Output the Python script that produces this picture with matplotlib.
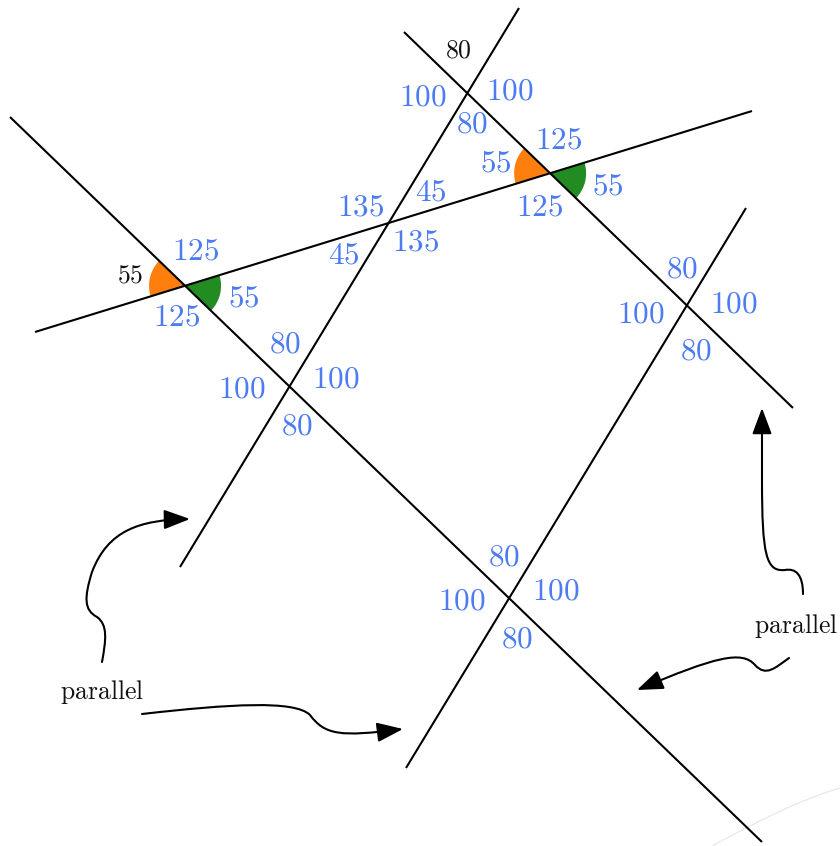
import numpy as np
import matplotlib
matplotlib.use("Agg")
import matplotlib.pyplot as plt
from matplotlib.patches import Wedge, FancyArrowPatch, PathPatch
from matplotlib.path import Path

plt.rcParams['mathtext.fontset'] = 'cm'

# ---- data ----
# line segments (pixel coords of picture)
seg_A = [(10, 117), (762, 842)]      # long transversal
seg_B = [(404, 32), (793, 408)]      # parallel transversal
seg_C = [(35, 332), (752, 111)]      # crossing line
seg_D = [(180, 567), (519, 8)]       # steep line 1
seg_E = [(406, 768), (746, 208)]     # steep line 2 (parallel)

# angle labels at each intersection
labels_AC = ["55", "125", "55", "125"]
labels_BC = ["55", "125", "55", "125"]
labels_DC = ["135", "45", "45", "135"]
labels_DB = ["80", "100", "100", "80"]
labels_DA = ["80", "100", "100", "80"]
labels_EB = ["80", "100", "100", "80"]
labels_EA = ["80", "100", "100", "80"]
note_text = ["parallel", "parallel"]

# ---- layout ----
BLUE = '#4d7cf2'
pos_AC = [(130, 275), (196, 251), (244, 298), (177, 317)]
col_AC = ['#111111', BLUE, BLUE, BLUE]
pos_BC = [(496, 163), (559, 140), (608, 186), (540, 207)]
col_BC = [BLUE] * 4
pos_DC = [(361, 207), (431, 192), (344, 255), (416, 242)]
col_DC = [BLUE] * 4
pos_DB = [(458, 50), (423, 97), (510, 91), (472, 124)]
col_DB = ['#111111', BLUE, BLUE, BLUE]
pos_DA = [(285, 344), (242, 389), (336, 379), (297, 426)]
pos_EB = [(682, 269), (641, 314), (734, 304), (696, 351)]
pos_EA = [(504, 557), (462, 601), (556, 591), (517, 639)]
note_pos = [(102, 692), (796, 626)]

W, H = 840, 846
fig = plt.figure(figsize=(8.4, 8.46), dpi=100)
ax = fig.add_axes([0, 0, 1, 1])
ax.set_xlim(0, W)
ax.set_ylim(H, 0)
ax.set_aspect('equal')
ax.axis('off')


def intersect(s1, s2):
    p = np.array(s1[0], float); r = np.array(s1[1], float) - p
    q = np.array(s2[0], float); s = np.array(s2[1], float) - q
    t = np.cross(q - p, s) / np.cross(r, s)
    return p + t * r


def ang(seg, reverse=False):
    d = np.array(seg[1], float) - np.array(seg[0], float)
    if reverse:
        d = -d
    return np.degrees(np.arctan2(d[1], d[0]))


# wedges at A x C and B x C
for sT in (seg_A, seg_B):
    P = intersect(sT, seg_C)
    a_ul = ang(sT, reverse=True) % 360       # up-left along transversal
    a_left = ang(seg_C, reverse=True) % 360  # left along crossing line
    ax.add_patch(Wedge(P, 36, a_left, a_ul, color='#ff7f0e', lw=0, zorder=1))
    a_dr = ang(sT)
    a_right = ang(seg_C)
    ax.add_patch(Wedge(P, 36, a_right, a_dr, color='#228b22', lw=0, zorder=1))

for seg in (seg_A, seg_B, seg_C, seg_D, seg_E):
    xs, ys = zip(*seg)
    ax.plot(xs, ys, color='black', lw=1.5, zorder=2, solid_capstyle='butt')

groups = [
    (labels_AC, pos_AC, col_AC),
    (labels_BC, pos_BC, col_BC),
    (labels_DC, pos_DC, col_DC),
    (labels_DB, pos_DB, col_DB),
    (labels_DA, pos_DA, [BLUE] * 4),
    (labels_EB, pos_EB, [BLUE] * 4),
    (labels_EA, pos_EA, [BLUE] * 4),
]
for labs, poss, cols in groups:
    for lab, (x, y), c in zip(labs, poss, cols):
        fs = 18.5 if c != BLUE else 22.5
        ax.text(x, y, r'$%s$' % lab, color=c, fontsize=fs,
                ha='center', va='center', zorder=3)

for t, (x, y) in zip(note_text, note_pos):
    ax.text(x, y, r'$\mathrm{%s}$' % t, color='#111111', fontsize=18.5,
            ha='center', va='center')

# curved arrows
M, C4, L = Path.MOVETO, Path.CURVE4, Path.LINETO
arrows = [
    ([(102, 662), (106, 640), (108, 625), (97, 617), (84, 610), (84, 598), (92, 572),
      (108, 530), (140, 520), (190, 519)], [M, C4, C4, C4, C4, C4, C4, C4, C4, C4]),
    ([(142, 714), (230, 704), (295, 700), (310, 715), (325, 735), (340, 737), (403, 729)],
     [M, C4, C4, C4, C4, C4, C4]),
    ([(803, 594), (803, 575), (796, 568), (785, 570), (766, 572), (762, 555), (762, 480),
      (762, 408)], [M, C4, C4, C4, C4, C4, C4, L]),
    ([(789, 658), (775, 668), (766, 677), (755, 665), (742, 650), (715, 657), (637, 690)],
     [M, C4, C4, C4, C4, C4, C4]),
]
for verts, codes in arrows:
    pth = Path(verts, codes)
    ax.add_patch(FancyArrowPatch(path=pth, arrowstyle='-|>,head_length=0.8,head_width=0.3',
                                 mutation_scale=20, color='black', lw=1.5,
                                 shrinkA=0, shrinkB=0))

# faint arc at bottom right
arc = Path([(712, 846), (760, 820), (800, 800), (840, 788)], [M, C4, C4, C4])
ax.add_patch(PathPatch(arc, fill=False, edgecolor='#e6e6e6', lw=0.8))

fig.savefig('out.png', dpi=100)
